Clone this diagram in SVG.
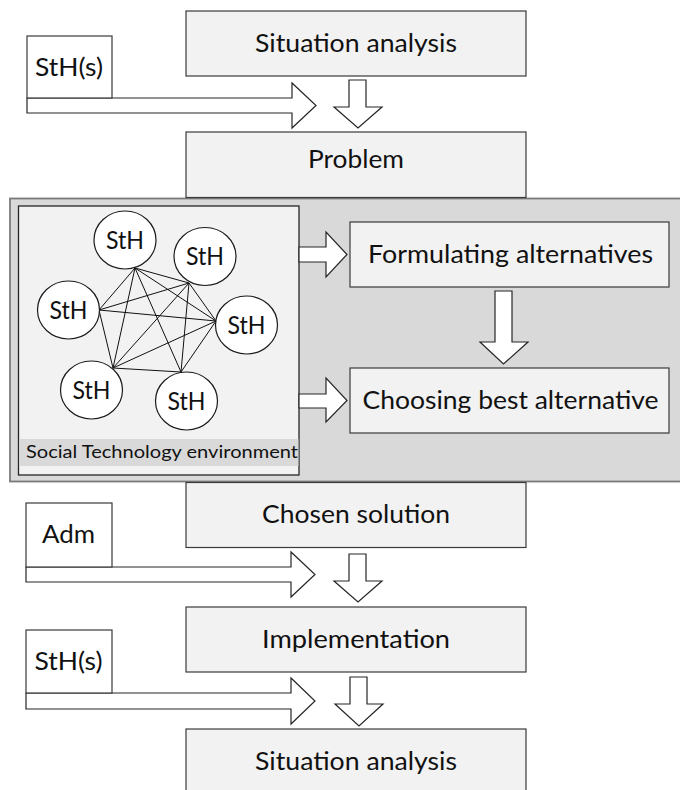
<svg xmlns="http://www.w3.org/2000/svg" width="680" height="790" viewBox="0 0 680 790">
<style>
  .box { fill: #f2f2f2; stroke: #3a3a3a; stroke-width: 1.2; }
  .side { fill: #ffffff; stroke: #3a3a3a; stroke-width: 1.2; }
  .arrow { fill: #ffffff; stroke: #262626; stroke-width: 1.2; stroke-linejoin: miter; }
  .circ { fill: #ffffff; stroke: #1a1a1a; stroke-width: 1.2; }
  .edge { stroke: #111111; stroke-width: 1; fill: none; }
  .t { font-family: Lato, "Open Sans", "Liberation Sans", sans-serif; font-size: 25px; fill: #111111; text-anchor: middle; }
  .lbl { font-family: Lato, "Open Sans", "Liberation Sans", sans-serif; font-size: 18px; fill: #111111; }
</style>
<rect width="680" height="790" fill="#ffffff"/>

<!-- decision environment -->
<g id="decision-area">
  <rect x="10" y="198.5" width="675" height="283" fill="#d9d9d9" stroke="#7a7a7a" stroke-width="1.8"/>
</g>
<g id="social-technology-environment">
  <rect x="18.5" y="206" width="280.5" height="269" fill="#f2f2f2" stroke="#262626" stroke-width="1.3"/>
  <rect x="19.2" y="439" width="279.2" height="27" fill="#d9d9d9"/>
  <text class="lbl" x="26" y="458" textLength="272" lengthAdjust="spacingAndGlyphs">Social Technology environment</text>
</g>

<g id="situation-analysis-1">
  <rect class="box" x="186" y="11" width="340" height="65"/>
  <text class="t" x="356" y="52" textLength="202" lengthAdjust="spacingAndGlyphs">Situation analysis</text>
</g>
<g id="problem">
  <rect class="box" x="186" y="132" width="340" height="65.5"/>
  <text class="t" x="356" y="168" textLength="96" lengthAdjust="spacingAndGlyphs">Problem</text>
</g>
<g id="formulating-alternatives">
  <rect class="box" x="350" y="222" width="319" height="65"/>
  <text class="t" x="510.5" y="263" textLength="285" lengthAdjust="spacingAndGlyphs">Formulating alternatives</text>
</g>
<g id="choosing-best-alternative">
  <rect class="box" x="350" y="368" width="319" height="65"/>
  <text class="t" x="510.5" y="409" textLength="296" lengthAdjust="spacingAndGlyphs">Choosing best alternative</text>
</g>
<g id="chosen-solution">
  <rect class="box" x="186" y="482.5" width="340" height="65"/>
  <text class="t" x="356" y="523" textLength="188" lengthAdjust="spacingAndGlyphs">Chosen solution</text>
</g>
<g id="implementation">
  <rect class="box" x="186" y="607" width="340" height="65"/>
  <text class="t" x="356" y="648" textLength="188" lengthAdjust="spacingAndGlyphs">Implementation</text>
</g>
<g id="situation-analysis-2">
  <rect class="box" x="186" y="729" width="340" height="66"/>
  <text class="t" x="356" y="770" textLength="202" lengthAdjust="spacingAndGlyphs">Situation analysis</text>
</g>

<g id="connectors">
  <!-- block arrows -->
  <polygon class="arrow" points="27,98 292,98 292,83 316,105.5 292,128 292,113 27,113"/>
  <polygon class="arrow" points="349,80 366,80 366,107 382,107 358,128 334,107 349,107"/>
  <polygon class="arrow" points="299,247 326,247 326,232 347,254.5 326,277 326,262 299,262"/>
  <polygon class="arrow" points="299,394 326,394 326,378 347,400.5 326,422 326,408 299,408"/>
  <polygon class="arrow" points="495,291 512,291 512,342 528,342 503.5,364 480,342 495,342"/>
  <polygon class="arrow" points="26,567 291,567 291,552 315,574.5 291,597 291,582 26,582"/>
  <polygon class="arrow" points="349,554 366,554 366,581 382,581 358,602 334,581 349,581"/>
  <polygon class="arrow" points="26,693 291,693 291,678 315,701 291,724 291,709 26,709"/>
  <polygon class="arrow" points="350,677 367,677 367,704 383,704 359,726 335,704 350,704"/>
  <!-- stakeholder network -->
  <line class="edge" x1="135" y1="268" x2="189" y2="283"/>
  <line class="edge" x1="135" y1="268" x2="99" y2="310"/>
  <line class="edge" x1="135" y1="268" x2="216" y2="321"/>
  <line class="edge" x1="135" y1="268" x2="113" y2="368"/>
  <line class="edge" x1="135" y1="268" x2="181" y2="372"/>
  <line class="edge" x1="189" y1="283" x2="99" y2="310"/>
  <line class="edge" x1="189" y1="283" x2="216" y2="321"/>
  <line class="edge" x1="189" y1="283" x2="113" y2="368"/>
  <line class="edge" x1="189" y1="283" x2="181" y2="372"/>
  <line class="edge" x1="99" y1="310" x2="216" y2="321"/>
  <line class="edge" x1="99" y1="310" x2="113" y2="368"/>
  <line class="edge" x1="216" y1="321" x2="113" y2="368"/>
  <line class="edge" x1="216" y1="321" x2="181" y2="372"/>
  <line class="edge" x1="113" y1="368" x2="181" y2="372"/>
</g>

<g id="sth-s-1">
  <rect class="side" x="27" y="36" width="85" height="62"/>
  <text class="t" x="69" y="76" textLength="68" lengthAdjust="spacingAndGlyphs">StH(s)</text>
</g>
<g id="adm">
  <rect class="side" x="26" y="503" width="86" height="64"/>
  <text class="t" x="68.5" y="543" textLength="53" lengthAdjust="spacingAndGlyphs">Adm</text>
</g>
<g id="sth-s-2">
  <rect class="side" x="26" y="630" width="86" height="63"/>
  <text class="t" x="68.5" y="670" textLength="68" lengthAdjust="spacingAndGlyphs">StH(s)</text>
</g>

<g id="sth-1">
  <ellipse class="circ" cx="125" cy="240" rx="31" ry="29"/>
  <text class="t" x="125" y="248.5" textLength="38" lengthAdjust="spacingAndGlyphs">StH</text>
</g>
<g id="sth-2">
  <ellipse class="circ" cx="205" cy="256.5" rx="31" ry="29"/>
  <text class="t" x="205" y="265" textLength="38" lengthAdjust="spacingAndGlyphs">StH</text>
</g>
<g id="sth-3">
  <ellipse class="circ" cx="68.5" cy="310" rx="31" ry="29"/>
  <text class="t" x="68.5" y="318.5" textLength="38" lengthAdjust="spacingAndGlyphs">StH</text>
</g>
<g id="sth-4">
  <ellipse class="circ" cx="246.5" cy="325" rx="31" ry="29"/>
  <text class="t" x="246.5" y="333.5" textLength="38" lengthAdjust="spacingAndGlyphs">StH</text>
</g>
<g id="sth-5">
  <ellipse class="circ" cx="91.5" cy="390" rx="31" ry="29"/>
  <text class="t" x="91.5" y="398.5" textLength="38" lengthAdjust="spacingAndGlyphs">StH</text>
</g>
<g id="sth-6">
  <ellipse class="circ" cx="186.5" cy="401" rx="31" ry="29"/>
  <text class="t" x="186.5" y="409.5" textLength="38" lengthAdjust="spacingAndGlyphs">StH</text>
</g>
</svg>
